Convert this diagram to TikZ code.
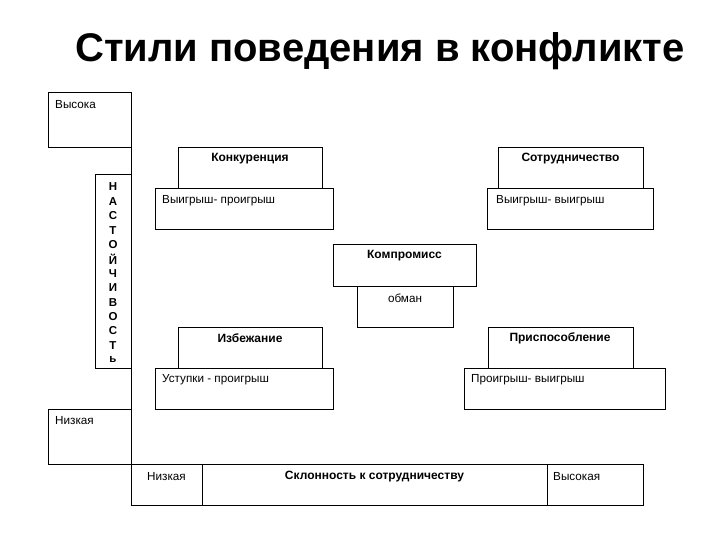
\documentclass[tikz,border=0pt]{standalone}
\usepackage{fontspec}
\setmainfont{Liberation Sans}
\begin{document}
\begin{tikzpicture}[x=1pt,y=-1pt,
  box/.style={draw, fill=white, line width=1pt, inner sep=0pt, outer sep=0pt, anchor=north west},
  lbl/.style={font=\fontsize{11.7}{13}\selectfont, inner sep=0pt},
  blbl/.style={font=\fontsize{12}{13}\selectfont\bfseries, inner sep=0pt},
  vlbl/.style={font=\fontsize{11.5}{12}\selectfont\bfseries, inner sep=0pt},
  axis/.style={line width=1pt}
]
\useasboundingbox (0,0) rectangle (720,540);
\fill[white] (0,0) rectangle (720,540);

\node[font=\fontsize{40}{44}\selectfont\bfseries, inner sep=0pt] (title) at (380,51) {Стили поведения в конфликте};

% left axis boxes
\node[box, minimum width=83pt, minimum height=55pt] (vys) at (48,93) {};
\node[box, minimum width=36pt, minimum height=193pt] (nast) at (95,175) {};
\node[box, minimum width=83pt, minimum height=55pt] (niz) at (48,409) {};

% bottom row
\node[box, minimum width=71pt, minimum height=41pt] (b1) at (131,464) {};
\node[box, minimum width=345pt, minimum height=41pt] (b2) at (202,464) {};
\node[box, minimum width=96pt, minimum height=41pt] (b3) at (547,464) {};

\draw[axis] (vys.north east) -- (b1.south west);

% style boxes
\node[box, minimum width=144pt, minimum height=41pt] (konk) at (178,148) {};
\node[box, minimum width=178pt, minimum height=41pt] (vp) at (155,189) {};
\node[box, minimum width=145pt, minimum height=41pt] (sotr) at (498,148) {};
\node[box, minimum width=166pt, minimum height=41pt] (vv) at (487,189) {};
\node[box, minimum width=143pt, minimum height=42pt] (komp) at (333,244) {};
\node[box, minimum width=96pt, minimum height=41pt] (obman) at (357,286) {};
\node[box, minimum width=144pt, minimum height=41pt] (izb) at (178,327) {};
\node[box, minimum width=178pt, minimum height=41pt] (ust) at (155,368) {};
\node[box, minimum width=145pt, minimum height=41pt] (prisp) at (488,327) {};
\node[box, minimum width=201pt, minimum height=41pt] (pv) at (464,368) {};

% texts
\node[lbl, anchor=west] (tvys) at (55,105) {Высока};
\node[lbl, anchor=west] (tniz) at (55,421) {Низкая};
\node[lbl] (tb1) at (166.5,477) {Низкая};
\node[blbl] (tb2) at (374.5,477) {Склонность к сотрудничеству};
\node[lbl, anchor=west] (tb3) at (553,477) {Высокая};

\node[blbl] (tkonk) at (250,159) {Конкуренция};
\node[lbl, anchor=west] (tvp) at (162,201) {Выигрыш- проигрыш};
\node[blbl] (tsotr) at (570.5,159) {Сотрудничество};
\node[lbl, anchor=west] (tvv) at (496,201) {Выигрыш- выигрыш};
\node[blbl] (tkomp) at (404.5,256) {Компромисс};
\node[lbl] (tobman) at (405,298) {обман};
\node[blbl] (tizb) at (250,338) {Избежание};
\node[lbl, anchor=west] (tust) at (162,380) {Уступки - проигрыш};
\node[blbl] (tprisp) at (560,338) {Приспособление};
\node[lbl, anchor=west] (tpv) at (471,380) {Проигрыш- выигрыш};

% vertical word
\foreach \l [count=\i from 0] in {Н,А,С,Т,О,Й,Ч,И,В,О,С,Т,ь}
  \node[vlbl] (n\i) at (113,{187+14.4*\i}) {\l};
\end{tikzpicture}
\end{document}
